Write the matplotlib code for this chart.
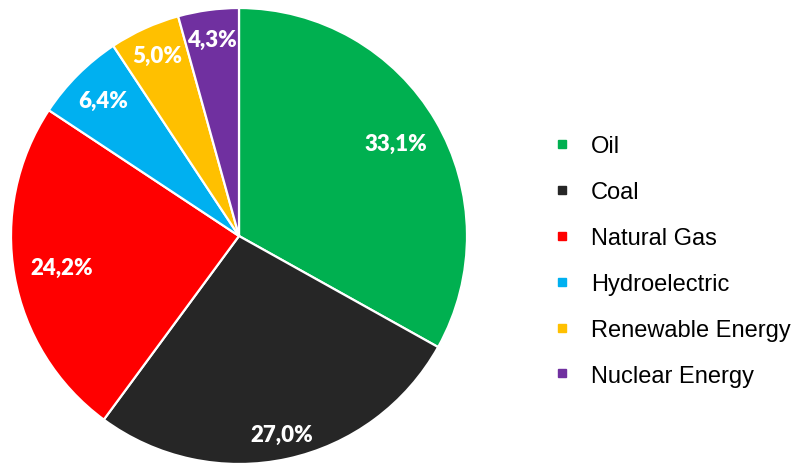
import numpy as np
import matplotlib.pyplot as plt
from matplotlib.lines import Line2D

sources = ["Oil", "Coal", "Natural Gas", "Hydroelectric", "Renewable Energy", "Nuclear Energy"]
shares = [33.1, 27.0, 24.2, 6.4, 5.0, 4.3]
labels = ["33,1%", "27,0%", "24,2%", "6,4%", "5,0%", "4,3%"]
colours = ["#00B050", "#262626", "#FF0000", "#00B0F0", "#FFC000", "#7030A0"]

# how far out each percentage sits (fraction of radius), like the Excel original
label_r = [0.80, 0.89, 0.79, 0.84, 0.87, 0.87]

fig = plt.figure(figsize=(7.94, 4.64), dpi=100)
W, H = 794, 464
cx, cy, r = 239, 464 - 237, 228
ax = fig.add_axes([(cx - r) / W, (cy - r) / H, 2 * r / W, 2 * r / H])

wedges, _ = ax.pie(shares, colors=colours, startangle=90, counterclock=False,
                   radius=1, wedgeprops=dict(edgecolor="white", linewidth=1.6))

for w, lab, d in zip(wedges, labels, label_r):
    ang = np.deg2rad((w.theta1 + w.theta2) / 2)
    ax.text(d * np.cos(ang), d * np.sin(ang), lab, ha="center", va="center",
            color="white", fontsize=16, fontweight="heavy", family="Lato")

ax.set_xlim(-1, 1)
ax.set_ylim(-1, 1)
ax.set_aspect("equal")
ax.axis("off")

handles = [Line2D([], [], marker="s", linestyle="none", markersize=6,
                  markerfacecolor=c, markeredgecolor=c) for c in colours]
fig.legend(handles, sources, loc="center left", bbox_to_anchor=(545.5 / W, (464 - 262) / H),
           frameon=False, prop=dict(family="Liberation Sans", size=17),
           handlelength=0.6, handletextpad=0.92, labelspacing=1.01, borderaxespad=0)

fig.savefig("out.png", dpi=100)
